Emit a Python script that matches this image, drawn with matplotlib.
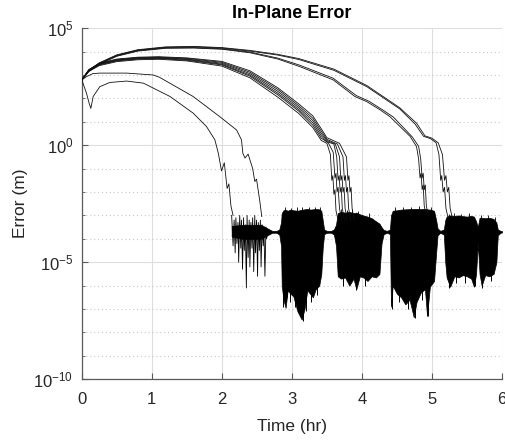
import numpy as np
import matplotlib
matplotlib.use('Agg')
import matplotlib.pyplot as plt
from matplotlib.ticker import FixedLocator, LogLocator, LogFormatterMathtext, NullFormatter

plt.rcParams['font.family'] = ['Liberation Sans', 'DejaVu Sans']
plt.rcParams['mathtext.default'] = 'regular'

# decaying error curves: time (hr) and log10(error in m)
a1_t = [0, 0.1, 0.25, 0.5, 0.8, 1.2, 1.6, 2.0, 2.4, 2.8, 3.1, 3.6, 4.07, 4.54, 4.78, 4.9, 5.0, 5.09, 5.15, 5.18, 5.2, 5.22, 5.24, 5.26, 5.29]
a1_L = [2.79, 3.2, 3.52, 3.86, 4.08, 4.2, 4.22, 4.17, 4.05, 3.88, 3.7, 3.25, 2.55, 1.6, 0.94, 0.4, 0.3, 0.1, -0.4, -1.5, -1.3, -2.0, -1.8, -2.7, -3.1]
a2_t = [0, 0.1, 0.25, 0.5, 0.8, 1.2, 1.6, 2.0, 2.4, 2.8, 3.1, 3.6, 4.07, 4.54, 4.76, 4.88, 4.98, 5.06, 5.1, 5.125, 5.14, 5.16, 5.18, 5.2, 5.23]
a2_L = [2.79, 3.18, 3.5, 3.84, 4.06, 4.18, 4.2, 4.15, 4.02, 3.85, 3.66, 3.2, 2.5, 1.55, 0.9, 0.38, 0.28, 0.1, -0.4, -1.5, -1.3, -2.0, -1.8, -2.7, -3.1]
a3_t = [0, 0.1, 0.25, 0.5, 0.8, 1.2, 1.6, 2.0, 2.4, 2.8, 3.11, 3.59, 3.9, 4.07, 4.26, 4.4, 4.69, 4.78, 4.81, 4.83, 4.845, 4.86, 4.875, 4.89, 4.92]
a3_L = [2.79, 3.15, 3.45, 3.8, 4.02, 4.14, 4.15, 4.1, 3.95, 3.68, 3.36, 2.79, 2.08, 1.86, 1.51, 1.22, 0.37, -0.06, -0.6, -1.4, -1.2, -1.9, -1.7, -2.6, -3.0]
a4_t = [0, 0.1, 0.25, 0.5, 0.8, 1.2, 1.6, 2.0, 2.4, 2.8, 3.11, 3.59, 3.92, 4.1, 4.3, 4.45, 4.72, 4.81, 4.84, 4.86, 4.875, 4.89, 4.905, 4.92, 4.95]
a4_L = [2.79, 3.17, 3.48, 3.82, 4.04, 4.16, 4.17, 4.12, 3.98, 3.72, 3.42, 2.86, 2.12, 1.88, 1.5, 1.2, 0.35, -0.05, -0.6, -1.4, -1.2, -1.9, -1.7, -2.6, -3.0]

b1_t = [0, 0.1, 0.25, 0.5, 0.8, 1.1, 1.5, 2.0, 2.4, 2.8, 3.1, 3.3, 3.42, 3.5, 3.55, 3.57, 3.585, 3.6, 3.615, 3.63, 3.66]
b1_L = [2.79, 3.15, 3.4, 3.57, 3.65, 3.67, 3.6, 3.38, 2.88, 2.05, 1.35, 0.75, 0.2, 0.08, -0.4, -1.5, -1.3, -2.1, -1.9, -2.8, -3.2]
b2_t = [0, 0.1, 0.25, 0.5, 0.8, 1.1, 1.5, 2.0, 2.4, 2.8, 3.1, 3.3, 3.42, 3.52, 3.59, 3.615, 3.63, 3.645, 3.66, 3.68, 3.71]
b2_L = [2.79, 3.18, 3.43, 3.6, 3.68, 3.7, 3.63, 3.43, 2.95, 2.15, 1.45, 0.85, 0.3, 0.1, -0.3, -1.4, -1.2, -2.0, -1.8, -2.7, -3.2]
b3_t = [0, 0.1, 0.25, 0.5, 0.8, 1.1, 1.5, 2.0, 2.4, 2.8, 3.1, 3.3, 3.42, 3.5, 3.6, 3.64, 3.66, 3.675, 3.69, 3.705, 3.72, 3.75]
b3_L = [2.79, 3.2, 3.45, 3.62, 3.7, 3.72, 3.66, 3.46, 3.0, 2.22, 1.52, 0.95, 0.4, 0.15, 0.05, -0.5, -1.5, -1.3, -2.0, -1.8, -2.7, -3.2]
b4_t = [0, 0.1, 0.25, 0.5, 0.8, 1.1, 1.5, 2.0, 2.4, 2.8, 3.1, 3.3, 3.42, 3.5, 3.62, 3.68, 3.7, 3.715, 3.73, 3.745, 3.76, 3.79]
b4_L = [2.79, 3.21, 3.47, 3.64, 3.72, 3.74, 3.68, 3.5, 3.06, 2.3, 1.6, 1.05, 0.5, 0.2, 0.05, -0.5, -1.5, -1.3, -2.0, -1.8, -2.7, -3.2]
b5_t = [0, 0.1, 0.25, 0.5, 0.8, 1.1, 1.5, 2.0, 2.4, 2.8, 3.1, 3.3, 3.42, 3.5, 3.65, 3.73, 3.75, 3.765, 3.78, 3.795, 3.81, 3.84]
b5_L = [2.79, 3.22, 3.48, 3.66, 3.74, 3.76, 3.71, 3.54, 3.12, 2.38, 1.68, 1.15, 0.6, 0.25, 0.05, -0.5, -1.5, -1.3, -2.0, -1.8, -2.7, -3.2]
b6_t = [0, 0.1, 0.25, 0.5, 0.8, 1.1, 1.5, 2.0, 2.4, 2.8, 3.1, 3.3, 3.42, 3.5, 3.68, 3.78, 3.8, 3.815, 3.83, 3.845, 3.86, 3.89]
b6_L = [2.79, 3.23, 3.5, 3.68, 3.76, 3.78, 3.73, 3.58, 3.18, 2.45, 1.76, 1.25, 0.7, 0.32, 0.08, -0.5, -1.5, -1.3, -2.0, -1.8, -2.7, -3.2]

c1_t = [0, 0.067, 0.105, 0.129, 0.162, 0.257, 0.4, 0.64, 0.88, 1.26, 1.59, 1.78, 1.9, 1.95, 1.995, 2.035, 2.075, 2.1, 2.13, 2.16]
c1_L = [2.79, 2.22, 1.79, 1.57, 2.08, 2.5, 2.68, 2.74, 2.65, 2.08, 1.37, 0.8, 0.23, -0.35, -1.1, -0.75, -1.85, -1.65, -2.6, -3.0]
c2_t = [0, 0.067, 0.16, 0.26, 0.64, 1.02, 1.11, 1.59, 1.97, 2.21, 2.28, 2.3, 2.33, 2.375, 2.44, 2.47, 2.495, 2.54, 2.57]
c2_L = [2.79, 2.93, 3.06, 3.08, 3.08, 3.0, 2.9, 2.08, 1.22, 0.65, 0.23, -0.35, -0.55, -0.38, -1.0, -1.55, -1.45, -2.35, -3.05]

# sparse noise right after the first two curves converge
burst1_t = [2.14, 2.16, 2.175, 2.19, 2.2, 2.215, 2.23, 2.24, 2.255, 2.27, 2.28, 2.295, 2.31, 2.32,
            2.335, 2.35, 2.36, 2.375, 2.39, 2.40, 2.415, 2.43, 2.44, 2.455, 2.47, 2.48, 2.495,
            2.51, 2.52, 2.535, 2.55, 2.56, 2.575, 2.59, 2.60, 2.615, 2.63, 2.64, 2.655, 2.67]
burst1_L = [-3.0, -4.3, -3.2, -4.6, -3.1, -4.2, -3.3, -5.0, -3.0, -4.4, -3.2, -5.3, -3.1, -4.5,
            -3.4, -6.1, -3.0, -4.8, -3.2, -5.2, -3.3, -4.4, -3.1, -5.4, -3.0, -4.6, -3.2,
            -5.6, -3.3, -4.5, -3.2, -5.2, -3.4, -4.3, -3.5, -5.6, -3.5, -4.0, -3.6, -3.8]

# steady-state noise band: upper and lower edge (log10 m)
band_t = [2.14, 2.3, 2.45, 2.56, 2.62, 2.68, 2.72, 2.78, 2.82, 2.845, 2.855, 2.88, 2.91, 2.94, 2.98,
          3.02, 3.08, 3.14, 3.18, 3.22, 3.26, 3.3, 3.34, 3.39, 3.42, 3.44, 3.46, 3.5, 3.56, 3.6,
          3.63, 3.655, 3.7, 3.76, 3.82, 3.88, 3.92, 3.97, 4.02, 4.08, 4.14, 4.2, 4.25, 4.28, 4.31,
          4.36, 4.4, 4.415, 4.44, 4.5, 4.56, 4.62, 4.68, 4.74, 4.78, 4.84, 4.9, 4.93, 4.97, 5.03,
          5.06, 5.08, 5.12, 5.17, 5.19, 5.21, 5.26, 5.32, 5.38, 5.44, 5.5, 5.56, 5.6, 5.63, 5.655,
          5.68, 5.71, 5.76, 5.82, 5.88, 5.92, 5.94, 5.98, 6.0]
band_hi = [-3.45, -3.4, -3.4, -3.4, -3.5, -3.6, -3.66, -3.66, -3.6, -3.3, -2.9, -2.78, -2.76, -2.8, -2.75,
           -2.78, -2.8, -2.76, -2.74, -2.72, -2.75, -2.74, -2.72, -2.74, -2.8, -3.2, -3.6, -3.66, -3.66, -3.6,
           -3.4, -2.9, -2.85, -2.88, -2.85, -2.9, -2.88, -2.95, -3.0, -3.05, -3.12, -3.25, -3.35, -3.5, -3.62,
           -3.66, -3.6, -3.0, -2.8, -2.78, -2.75, -2.74, -2.73, -2.72, -2.72, -2.73, -2.72, -2.74, -2.75, -2.8,
           -3.2, -3.55, -3.66, -3.6, -3.2, -3.05, -3.0, -3.02, -3.0, -3.03, -3.05, -3.02, -3.05, -3.25, -3.5,
           -3.1, -3.1, -3.12, -3.1, -3.15, -3.3, -3.6, -3.66, -3.67]
band_lo = [-3.9, -4.0, -4.0, -4.0, -3.9, -3.8, -3.74, -3.74, -3.82, -4.3, -6.0, -6.6, -6.95, -6.2, -6.35,
           -6.45, -7.1, -7.45, -7.0, -6.2, -6.35, -6.5, -6.15, -6.0, -5.5, -4.4, -3.8, -3.74, -3.74, -3.82,
           -4.3, -5.6, -5.7, -5.65, -6.0, -5.7, -6.15, -5.6, -5.65, -5.8, -5.6, -5.65, -5.5, -4.2, -3.8,
           -3.74, -3.8, -6.9, -6.0, -6.35, -6.5, -6.8, -6.6, -7.35, -6.7, -6.3, -6.15, -7.3, -6.05, -5.8,
           -4.6, -3.85, -3.74, -3.82, -5.0, -5.65, -6.05, -5.6, -5.65, -5.55, -5.6, -5.7, -6.05, -5.5, -4.2,
           -5.5, -6.0, -5.55, -5.6, -5.5, -5.0, -3.85, -3.74, -3.73]

# narrow spikes hanging below / sticking above the band
spike_t = [2.88, 2.93, 2.97, 3.05, 3.11, 3.16, 3.2, 3.28, 3.36, 3.73, 3.92, 4.05, 4.43, 4.53, 4.66,
           4.76, 4.86, 4.95, 5.25, 5.35, 5.47, 5.62, 5.72, 5.85]
spike_L = [-6.9, -6.5, -6.7, -6.9, -7.3, -7.5, -7.1, -6.7, -6.4, -6.0, -6.2, -6.0, -7.0, -6.7, -7.0,
           -7.4, -6.6, -7.3, -6.1, -5.9, -5.9, -6.0, -6.1, -5.8]
hair_t = [2.9, 2.99, 3.07, 3.15, 3.24, 3.33, 3.4, 3.7, 3.79, 3.86, 3.95, 4.1, 4.47, 4.58, 4.7, 4.82,
          4.99, 5.24, 5.31, 5.41, 5.53, 5.7, 5.8, 5.9]
hair_L = [-2.64, -2.68, -2.65, -2.62, -2.63, -2.66, -2.64, -2.74, -2.76, -2.72, -2.8, -2.9, -2.64, -2.62,
          -2.65, -2.6, -2.66, -2.92, -2.9, -2.94, -2.9, -3.0, -2.98, -3.05]

curves = [(a1_t, a1_L), (a2_t, a2_L), (a3_t, a3_L), (a4_t, a4_L),
          (b1_t, b1_L), (b2_t, b2_L), (b3_t, b3_L), (b4_t, b4_L), (b5_t, b5_L), (b6_t, b6_L),
          (c1_t, c1_L), (c2_t, c2_L)]

fig = plt.figure(figsize=(5.05, 4.4), dpi=100)
ax = fig.add_axes([0.162, 0.138, 0.832, 0.798])
ax.set_yscale('log')

ax.fill_between(band_t, 10.0 ** np.array(band_lo), 10.0 ** np.array(band_hi),
                color='k', lw=0.5, zorder=3)
ax.vlines(spike_t, 10.0 ** -5.5, 10.0 ** np.array(spike_L), color='k', lw=0.7, zorder=3)
ax.vlines(hair_t, 10.0 ** -3.3, 10.0 ** np.array(hair_L), color='k', lw=0.6, zorder=3)
ax.plot(burst1_t, 10.0 ** np.array(burst1_L), color='k', lw=0.6, zorder=3)
for t, L in curves:
    ax.plot(t, 10.0 ** np.array(L), color='#111111', lw=0.6, zorder=4)

ax.set_xlim(0, 6)
ax.set_ylim(1e-10, 1e5)
ax.set_xticks(range(7))
ax.yaxis.set_major_locator(FixedLocator([1e-10, 1e-5, 1e0, 1e5]))
ax.yaxis.set_major_formatter(LogFormatterMathtext())
ax.yaxis.set_minor_locator(LogLocator(base=10, subs=[1.0], numticks=30))
ax.yaxis.set_minor_formatter(NullFormatter())

ax.set_axisbelow(True)
ax.grid(which='major', color='#dedede', lw=0.8, ls='-')
ax.grid(which='minor', axis='y', color='#c8c8c8', lw=0.8, ls=(0, (1, 2.5)))

for s in ['top', 'right']:
    ax.spines[s].set_visible(False)
for s in ['left', 'bottom']:
    ax.spines[s].set_color('#5a5a5a')
    ax.spines[s].set_linewidth(0.9)
ax.tick_params(which='both', direction='in', color='#5a5a5a', labelcolor='#262626', labelsize=12)
ax.tick_params(which='major', length=4)
ax.tick_params(which='minor', length=2.5)
ax.tick_params(axis='x', pad=9)
ax.tick_params(axis='y', pad=6)

ax.set_title('In-Plane Error', fontsize=13, fontweight='bold', pad=7)
ax.set_xlabel('Time (hr)', fontsize=12.5, color='#262626')
ax.set_ylabel('Error (m)', fontsize=12.5, color='#262626')
ax.xaxis.set_label_coords(0.5, -0.113)
ax.yaxis.set_label_coords(-0.128, 0.5)

fig.savefig('out.png', dpi=100)
